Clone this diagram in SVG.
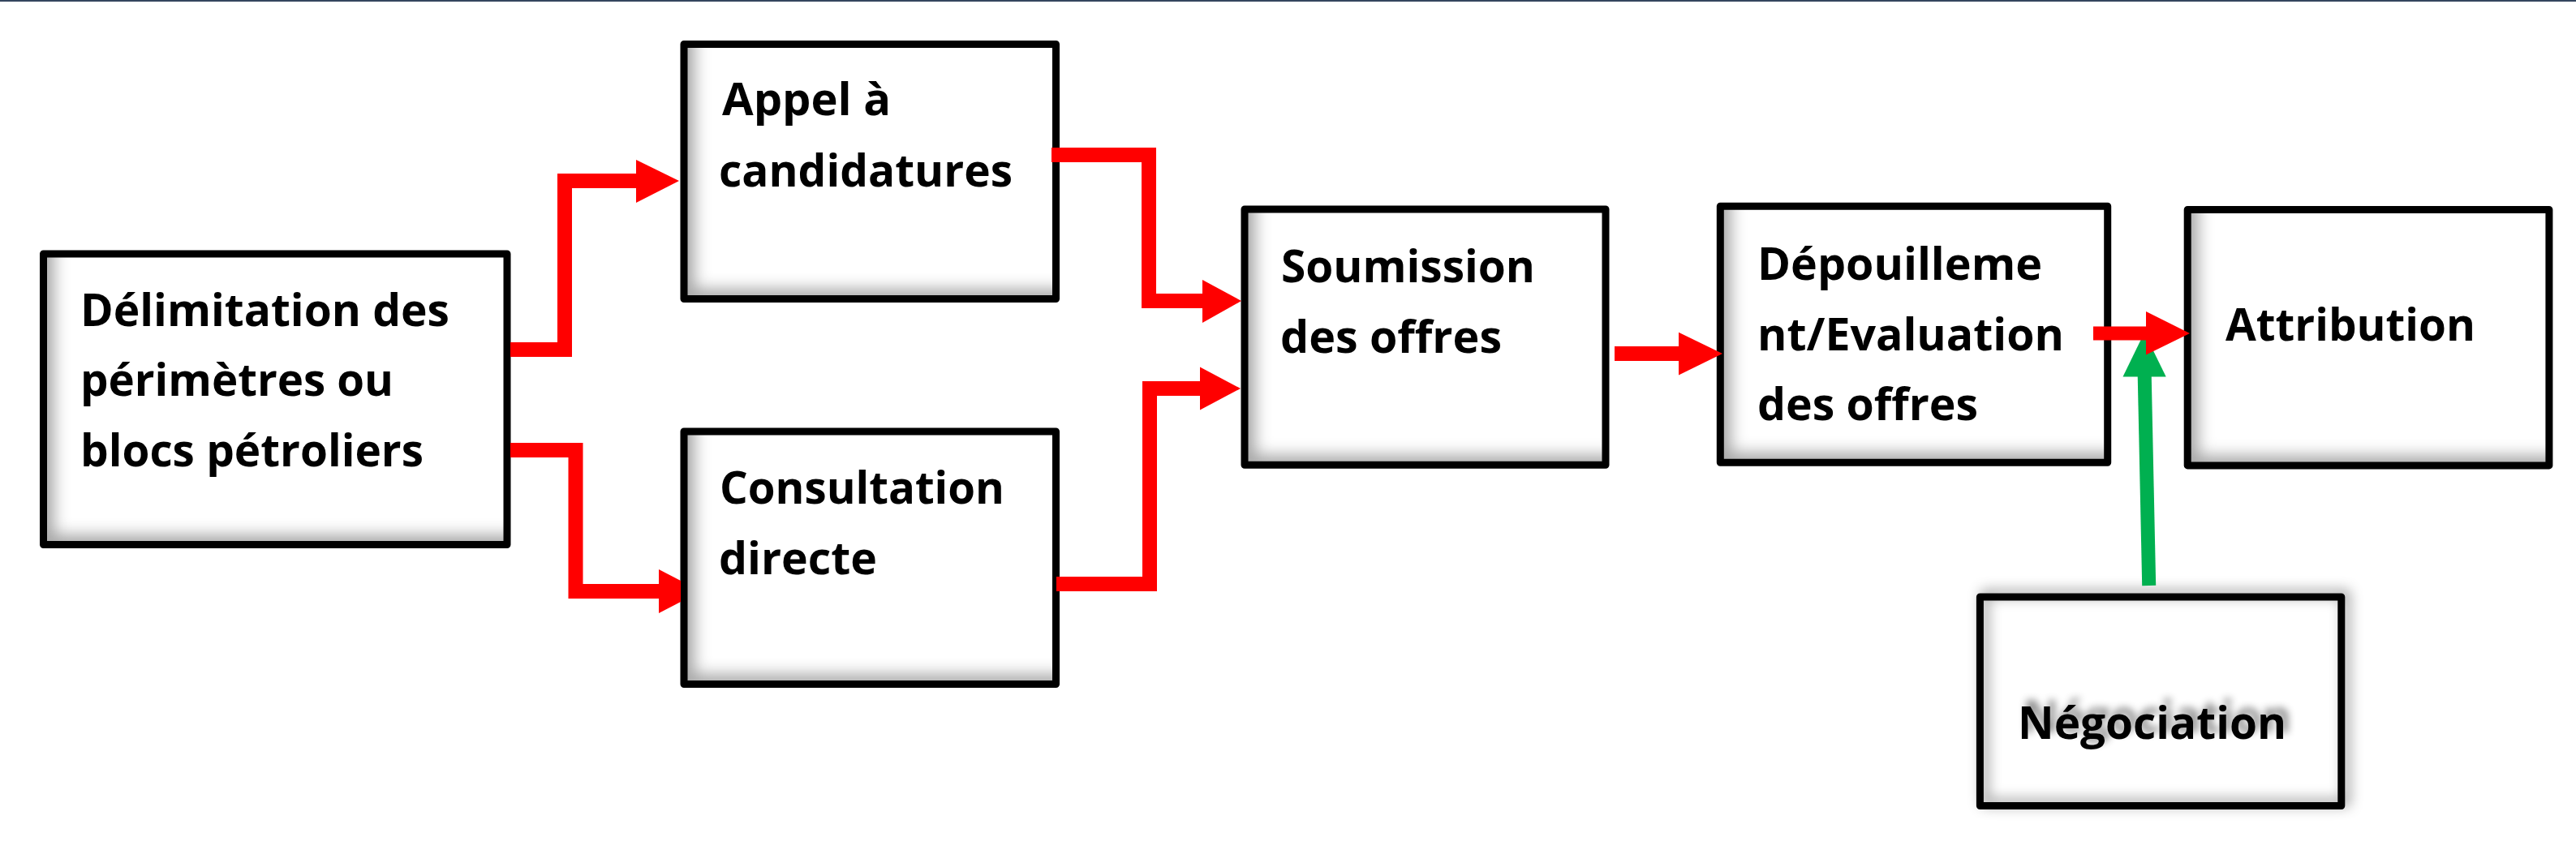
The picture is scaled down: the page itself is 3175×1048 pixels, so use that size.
<svg xmlns="http://www.w3.org/2000/svg" width="3175" height="1048" viewBox="0 0 3175 1048">
<style>
.bg{fill:#fff}
.fill{fill:#fff}
.box{fill:none;stroke:#000;stroke-width:9;stroke-linejoin:round}
.t{font-family:"Open Sans","Liberation Sans",sans-serif;font-weight:700;font-size:56px;fill:#000}
.red{fill:none;stroke:#ff0000;stroke-width:18;stroke-linejoin:miter;stroke-linecap:butt}
.redh{fill:#ff0000}
.green{fill:none;stroke:#00b050;stroke-width:17;stroke-linecap:butt}
.greenh{fill:#00b050}
</style>
<defs>
<filter id="inset" x="-8%" y="-8%" width="116%" height="116%">
  <feFlood flood-color="#000" flood-opacity="0.6" result="f"/>
  <feComposite in="f" in2="SourceAlpha" operator="out" result="outside"/>
  <feGaussianBlur in="outside" stdDeviation="9" result="b"/>
  <feOffset in="b" dx="15" dy="-14" result="o"/>
  <feComposite in="o" in2="SourceAlpha" operator="in" result="inner"/>
  <feMerge><feMergeNode in="SourceGraphic"/><feMergeNode in="inner"/></feMerge>
</filter>
<filter id="glow" x="-10%" y="-15%" width="120%" height="130%">
  <feDropShadow dx="6" dy="-4" stdDeviation="8" flood-color="#000" flood-opacity="0.4"/>
</filter>
<filter id="tshadow" x="-10%" y="-50%" width="120%" height="200%">
  <feDropShadow dx="6" dy="-8" stdDeviation="5" flood-color="#000" flood-opacity="0.45"/>
</filter>
</defs>
<rect class="bg" x="0" y="0" width="3175" height="1048"/>
<rect x="0" y="0" width="3175" height="2" fill="#34455e"/>

<g id="nodes">
  <g id="delimitation">
    <rect class="fill" filter="url(#inset)" x="53.5" y="313" width="571.5" height="358.5"/>
    <rect class="box" x="53.5" y="313" width="571.5" height="358.5"/>
    <text class="t" x="99" y="402" textLength="455" lengthAdjust="spacingAndGlyphs">Délimitation des</text>
    <text class="t" x="99" y="488" textLength="386" lengthAdjust="spacingAndGlyphs">périmètres ou</text>
    <text class="t" x="99" y="575" textLength="423" lengthAdjust="spacingAndGlyphs">blocs pétroliers</text>
  </g>
  <g id="appel">
    <rect class="fill" filter="url(#inset)" x="843" y="54.5" width="458.5" height="314"/>
    <rect class="box" x="843" y="54.5" width="458.5" height="314"/>
    <text class="t" x="890" y="142" textLength="208" lengthAdjust="spacingAndGlyphs">Appel à</text>
    <text class="t" x="886" y="230" textLength="362" lengthAdjust="spacingAndGlyphs">candidatures</text>
  </g>
  <g id="consultation">
    <rect class="fill" filter="url(#inset)" x="843" y="532" width="458.5" height="311.5"/>
    <rect class="box" x="843" y="532" width="458.5" height="311.5"/>
    <text class="t" x="887" y="621" textLength="351" lengthAdjust="spacingAndGlyphs">Consultation</text>
    <text class="t" x="886" y="708" textLength="195" lengthAdjust="spacingAndGlyphs">directe</text>
  </g>
  <g id="soumission">
    <rect class="fill" filter="url(#inset)" x="1534" y="258" width="445" height="315.3"/>
    <rect class="box" x="1534" y="258" width="445" height="315.3"/>
    <text class="t" x="1579" y="348" textLength="313" lengthAdjust="spacingAndGlyphs">Soumission</text>
    <text class="t" x="1578" y="435" textLength="273" lengthAdjust="spacingAndGlyphs">des offres</text>
  </g>
  <g id="depouillement">
    <rect class="fill" filter="url(#inset)" x="2120.3" y="254.3" width="477.4" height="316"/>
    <rect class="box" x="2120.3" y="254.3" width="477.4" height="316"/>
    <text class="t" x="2166" y="345" textLength="351" lengthAdjust="spacingAndGlyphs">Dépouilleme</text>
    <text class="t" x="2166" y="431.5" textLength="378" lengthAdjust="spacingAndGlyphs">nt/Evaluation</text>
    <text class="t" x="2166" y="517.5" textLength="272" lengthAdjust="spacingAndGlyphs">des offres</text>
  </g>
  <g id="attribution">
    <rect class="fill" filter="url(#inset)" x="2696.2" y="258.4" width="445.7" height="315.5"/>
    <rect class="box" x="2696.2" y="258.4" width="445.7" height="315.5"/>
    <text class="t" x="2743" y="420" textLength="308" lengthAdjust="spacingAndGlyphs">Attribution</text>
  </g>
  <g id="negociation">
    <rect class="fill" x="2440.4" y="735.9" width="445.4" height="257.6"/>
    <rect class="box" filter="url(#glow)" x="2440.4" y="735.9" width="445.4" height="257.6"/>
    <text class="t" filter="url(#tshadow)" x="2487" y="911" textLength="331" lengthAdjust="spacingAndGlyphs">Négociation</text>
  </g>
</g>

<g id="connectors">
  <polyline class="red" points="629,431 696,431 696,223 786,223"/>
  <polygon class="redh" points="784,197 837,223 784,250"/>
  <polyline class="red" points="629,555 709.5,555 709.5,729 814,729"/>
  <polygon class="redh" points="812,702 839,716 839,742 812,756"/>
  <polyline class="red" points="1296,191 1416,191 1416,371 1484,371"/>
  <polygon class="redh" points="1482,345 1530,371 1482,398"/>
  <polyline class="red" points="1302,720 1417,720 1417,479 1481,479"/>
  <polygon class="redh" points="1479,452.5 1529,479 1479,505.5"/>
  <line class="red" x1="1990" y1="436" x2="2071" y2="436"/>
  <polygon class="redh" points="2069,409.7 2123,436 2069,462.5"/>
  <line class="green" x1="2648.7" y1="722" x2="2643.2" y2="462"/>
  <polygon class="greenh" points="2616.5,464.5 2643,410 2669.7,464.5"/>
  <line class="red" x1="2580" y1="411" x2="2647" y2="411" style="stroke-width:17"/>
  <polygon class="redh" points="2645,384 2699,411 2645,437.5"/>
</g>
</svg>
